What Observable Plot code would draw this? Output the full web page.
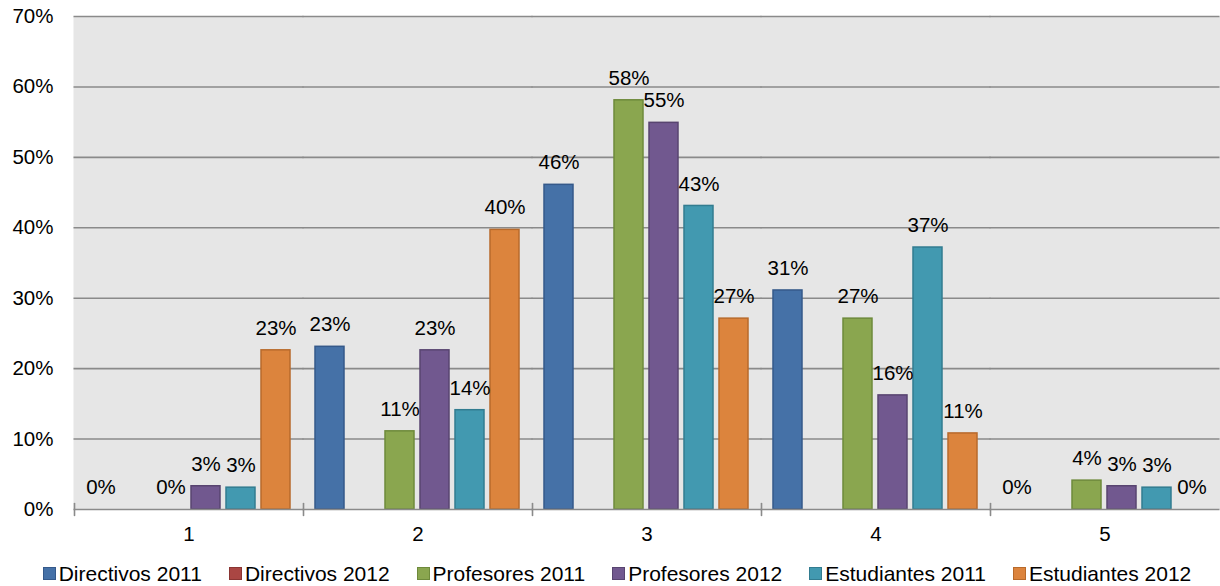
<!DOCTYPE html>
<html>
<head>
<meta charset="utf-8">
<script src="https://cdn.jsdelivr.net/npm/d3@7"></script>
<script src="https://cdn.jsdelivr.net/npm/@observablehq/plot@0.6"></script>
<style>
  html, body { margin: 0; padding: 0; background: #fff; }
  body { width: 1220px; height: 586px; overflow: hidden; font-family: "Liberation Sans", Arial, sans-serif; }
  #legend { display: flex; justify-content: center; align-items: center; gap: 27px; height: 31px; padding: 6px 0 0 14px; box-sizing: border-box; font-size: 21px; color: #000; }
  #legend .item { display: flex; align-items: center; white-space: nowrap; }
  #legend .sw { width: 11px; height: 11px; border: 1px solid; margin-right: 3px; }
</style>
</head>
<body>
<div id="chart"></div>
<div id="legend"></div>
<script>
const categories = ["1", "2", "3", "4", "5"];
const seriesNames = ["Directivos 2011", "Directivos 2012", "Profesores 2011", "Profesores 2012", "Estudiantes 2011", "Estudiantes 2012"];
const directivos2011 = [0, 23.1, 46.1, 31.1, 0];
const directivos2012 = [null, null, null, null, null];
const profesores2011 = [0, 11.1, 58.1, 27.1, 4.1];
const profesores2012 = [3.3, 22.6, 54.9, 16.2, 3.3];
const estudiantes2011 = [3.1, 14.1, 43.1, 37.2, 3.1];
const estudiantes2012 = [22.6, 39.7, 27.1, 10.8, 0];
const yTicks = [0, 10, 20, 30, 40, 50, 60, 70];
const fills = ["#4571a7", "#aa4643", "#8aa64f", "#71588f", "#4299b0", "#dc843d"];
const strokes = ["#35598a", "#8a3533", "#6e8a3b", "#584470", "#327c90", "#b86a2b"];

const seriesValues = [directivos2011, directivos2012, profesores2011, profesores2012, estudiantes2011, estudiantes2012];
const data = [];
seriesNames.forEach((s, si) => {
  categories.forEach((c, ci) => {
    const v = seriesValues[si][ci];
    if (v !== null && v !== undefined) data.push({category: c, series: s, value: v});
  });
});

const font = "'Liberation Sans', Arial, sans-serif";

const chart = Plot.plot({
  width: 1220,
  height: 555,
  marginLeft: 72,
  marginRight: 0,
  marginTop: 16,
  marginBottom: 46,
  style: {fontFamily: font, fontSize: "20.5px", color: "#000", background: "#fff"},
  fx: {domain: categories, padding: 0, label: null},
  x: {domain: seriesNames, paddingInner: 0.1667, paddingOuter: 0.272, axis: null},
  y: {domain: [0, 70], label: null},
  color: {domain: seriesNames, range: fills},
  marks: [
    Plot.frame({fill: "#e6e6e6", stroke: null, insetLeft: -1, insetRight: -1}),
    Plot.gridY(yTicks.filter(d => d > 0), {stroke: "#8a8a8a", strokeOpacity: 1, strokeWidth: 1.6, insetLeft: -0.5, insetRight: -0.5}),
    Plot.axisY(yTicks, {tickSize: 0, tickPadding: 21, tickFormat: d => d + "%", fontSize: "20.5px", label: null}),
    Plot.axisFx({anchor: "bottom", tickSize: 0, tickPadding: 17, fontSize: "20.5px", label: null}),
    Plot.barY(data, {fx: "category", x: "series", y: "value", fill: "series", stroke: d => strokes[seriesNames.indexOf(d.series)], strokeWidth: 1.5}),
    Plot.ruleY([0], {stroke: "#8a8a8a", strokeWidth: 1.6, insetLeft: -0.5, insetRight: -0.5}),
    Plot.vector(categories, {fx: d => d, frameAnchor: "bottom-left", length: 12, anchor: "middle", stroke: "#8a8a8a", strokeWidth: 1.6,
      shape: {draw(context, l) { context.moveTo(0, 0); context.lineTo(0, -l); }}}),
    Plot.text(data, {fx: "category", x: "series", y: "value", text: d => Math.round(d.value) + "%", dy: -22, lineAnchor: "middle", fill: "#000", fontSize: "20.5px"})
  ]
});
document.getElementById("chart").appendChild(chart);

const legend = document.getElementById("legend");
seriesNames.forEach((s, i) => {
  const item = document.createElement("div");
  item.className = "item";
  const sw = document.createElement("span");
  sw.className = "sw";
  sw.style.background = fills[i];
  sw.style.borderColor = strokes[i];
  const t = document.createElement("span");
  t.textContent = s;
  item.appendChild(sw);
  item.appendChild(t);
  legend.appendChild(item);
});
</script>
</body>
</html>
